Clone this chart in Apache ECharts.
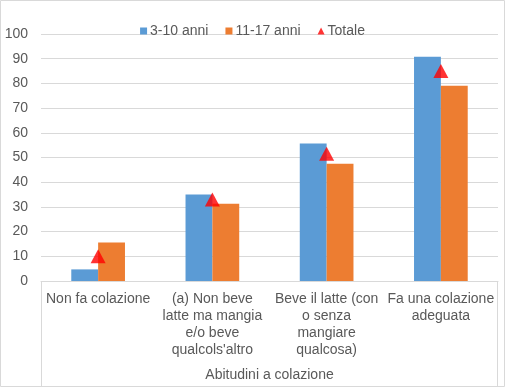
<!DOCTYPE html>
<html><head><meta charset="utf-8">
<script src="https://cdn.jsdelivr.net/npm/echarts@6/dist/echarts.min.js"></script>
<style>html,body{margin:0;padding:0;background:#fff}#c{width:505px;height:387px}</style>
</head><body><div id="c"></div>
<script>
var categories = ["Non fa colazione", "(a) Non beve\nlatte ma mangia\ne/o beve\nqualcols'altro", "Beve il latte (con\no senza\nmangiare\nqualcosa)", "Fa una colazione\nadeguata"];
var seriesNames = ["3-10 anni", "11-17 anni", "Totale"];
var young = [4.7, 35, 55.7, 90.8];
var teen = [15.6, 31.3, 47.5, 79];
var total = [10, 33, 51.5, 85];
var yTicks = [0, 10, 20, 30, 40, 50, 60, 70, 80, 90, 100];

var W = 505, H = 387, gl = 41, gr = 7, gt = 34, gb = 106;
var chart = echarts.init(document.getElementById('c'), null, {renderer: 'canvas'});
var font = 'Liberation Sans, Arial, sans-serif';
chart.setOption({
  animation: false,
  textStyle: {fontFamily: font},
  graphic: [
    {type: 'rect', shape: {x: 0.5, y: 0.5, width: W - 1, height: H - 1}, style: {fill: 'none', stroke: '#d9d9d9', lineWidth: 1}, z: 0},
    {type: 'line', shape: {x1: gl + 0.5, y1: H - gb, x2: gl + 0.5, y2: H}, style: {stroke: '#d9d9d9', lineWidth: 1}},
    {type: 'line', shape: {x1: W - gr - 0.5, y1: H - gb, x2: W - gr - 0.5, y2: H}, style: {stroke: '#d9d9d9', lineWidth: 1}}
  ],
  legend: {
    top: 19, left: 'center', itemGap: 17, itemWidth: 7, itemHeight: 7,
    textStyle: {fontSize: 14, color: '#595959', fontFamily: font, padding: [0, 0, 0, -2]},
    data: [
      {name: seriesNames[0], icon: 'rect'},
      {name: seriesNames[1], icon: 'rect'},
      {name: seriesNames[2], icon: 'triangle'}
    ]
  },
  grid: {left: gl, right: gr, top: gt, bottom: gb, containLabel: false, outerBoundsMode: 'none'},
  xAxis: {
    type: 'category', data: categories,
    name: 'Abitudini a colazione', nameLocation: 'middle', nameGap: 87,
    nameTextStyle: {fontSize: 14, color: '#595959', fontFamily: font},
    axisLine: {lineStyle: {color: '#d9d9d9'}},
    axisTick: {show: false},
    axisLabel: {fontSize: 14, color: '#595959', lineHeight: 17, margin: 10, interval: 0, fontFamily: font}
  },
  yAxis: {
    type: 'value', min: 0, max: 100, interval: 10,
    axisLabel: {fontSize: 14, color: '#595959', margin: 13, fontFamily: font,
      formatter: function (v) { return yTicks.indexOf(v) >= 0 ? String(v) : ''; }},
    axisLine: {show: false}, axisTick: {show: false},
    splitLine: {lineStyle: {color: '#d9d9d9'}}
  },
  series: [
    {name: seriesNames[0], type: 'bar', data: young, itemStyle: {color: '#5B9BD5'}, barGap: '0%', barCategoryGap: '53%'},
    {name: seriesNames[1], type: 'bar', data: teen, itemStyle: {color: '#ED7D31'}, barGap: '0%', barCategoryGap: '53%'},
    {name: seriesNames[2], type: 'scatter', data: total, symbol: 'triangle', symbolSize: [15, 14], itemStyle: {color: '#FF0000'}, z: 5}
  ]
});
</script></body></html>
